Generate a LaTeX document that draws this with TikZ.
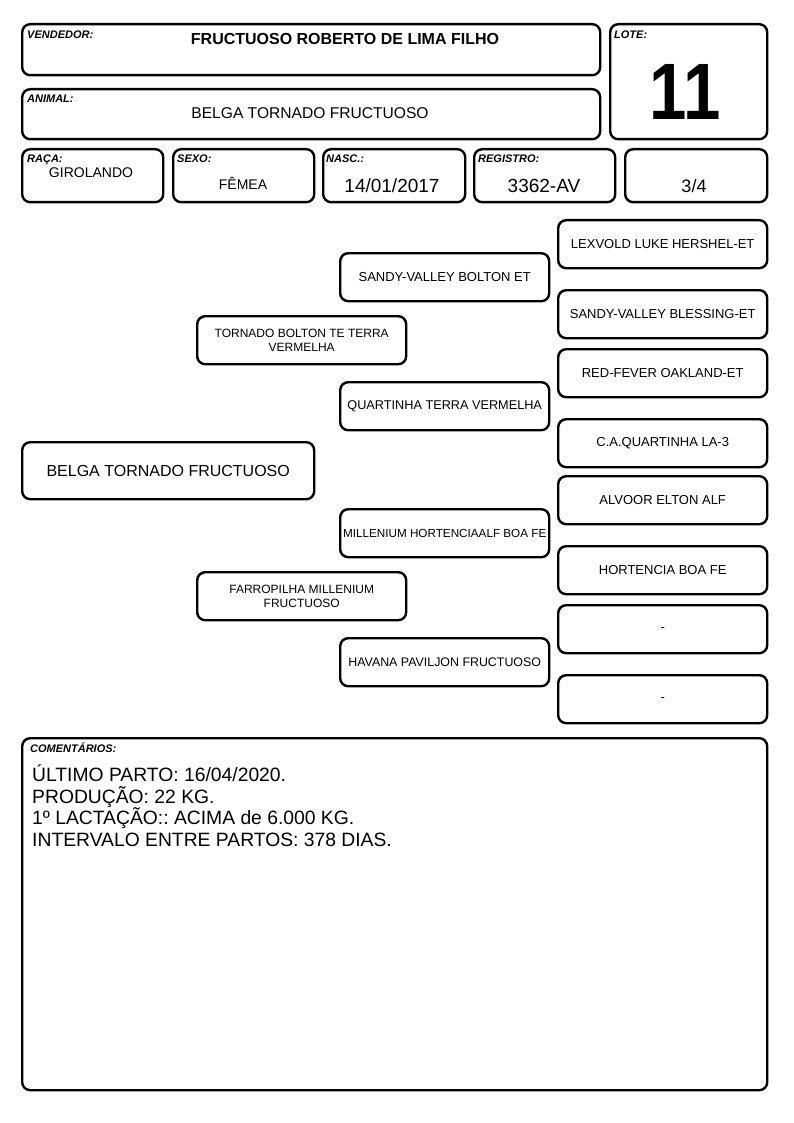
\documentclass[tikz,border=0pt]{standalone}
\usepackage{fontspec}
\setmainfont{Liberation Sans}
\frenchspacing
\begin{document}
\begin{tikzpicture}[x=1pt,y=-1pt,
  box/.style={draw=black,line width=2.4pt,rounded corners=8pt,anchor=north west,inner sep=0pt,align=center},
  lbl/.style={anchor=base west,inner sep=0pt,font=\fontsize{11}{12}\selectfont\bfseries\itshape},
  val/.style={anchor=base,inner sep=0pt},
  ped/.style={font=\fontsize{13}{15}\selectfont},
  peds/.style={font=\fontsize{12}{14}\selectfont}]
\useasboundingbox (0,0) rectangle (794,1123);
\newcommand\Bx[6][]{\node[box,minimum width=#4pt,minimum height=#5pt,#1] (#2) at (#3) {#6};}
% header
\Bx{vend}{21,23}{578}{51}{}
\Bx{lote}{609,23}{157}{115}{}
\Bx{anim}{21,88}{578}{50}{}
\Bx{raca}{21,148}{141}{53}{}
\Bx{sexo}{172,148}{141}{53}{}
\Bx{nasc}{322,148}{142}{53}{}
\Bx{regi}{473,148}{141}{53}{}
\Bx{grau}{624,148}{142}{53}{}
\node[lbl] (lvend) at (27,39) {VENDEDOR:};
\node[val,font=\fontsize{16}{18}\selectfont\bfseries] (tvend) at (345,44.5) {FRUCTUOSO ROBERTO DE LIMA FILHO};
\node[lbl] (llote) at (614,39) {LOTE:};
\node[val,font=\fontsize{80}{80}\selectfont\bfseries] (tlote) at (685,120) {\scalebox{0.84}[1]{11}};
\node[lbl] (lanim) at (27,103) {ANIMAL:};
\node[val,font=\fontsize{15.6}{17}\selectfont] (tanim) at (310,119) {BELGA TORNADO FRUCTUOSO};
\node[lbl] (lraca) at (27,163) {RAÇA:};
\node[val,font=\fontsize{14}{16}\selectfont] (traca) at (91,178) {GIROLANDO};
\node[lbl] (lsexo) at (177,163) {SEXO:};
\node[val,font=\fontsize{14}{16}\selectfont] (tsexo) at (243,190) {FÊMEA};
\node[lbl] (lnasc) at (326,163) {NASC.:};
\node[val,font=\fontsize{19}{21}\selectfont] (tnasc) at (392,193) {14/01/2017};
\node[lbl] (lregi) at (478,163) {REGISTRO:};
\node[val,font=\fontsize{19}{21}\selectfont] (tregi) at (544,193) {3362-AV};
\node[val,font=\fontsize{18}{20}\selectfont] (tgrau) at (694,193) {3/4};
% pedigree
\Bx[font=\fontsize{16}{18}\selectfont]{p0}{21,441}{292}{57}{BELGA TORNADO FRUCTUOSO}
\Bx[peds]{p1}{196,315}{209}{48}{TORNADO BOLTON TE TERRA\\VERMELHA}
\Bx[peds]{p2}{196,571}{209}{48}{FARROPILHA MILLENIUM\\FRUCTUOSO}
\Bx[ped]{p11}{339,252}{209}{48}{SANDY-VALLEY BOLTON ET}
\Bx[font=\fontsize{12.7}{15}\selectfont]{p12}{339,381}{209}{48}{QUARTINHA TERRA VERMELHA}
\Bx[font=\fontsize{11.7}{14}\selectfont]{p21}{339,508}{209}{48}{MILLENIUM HORTENCIAALF BOA FE}
\Bx[font=\fontsize{12.4}{14}\selectfont]{p22}{339,637}{209}{48}{HAVANA PAVILJON FRUCTUOSO}
\Bx[ped]{p111}{557,219}{209}{48}{LEXVOLD LUKE HERSHEL-ET}
\Bx[ped]{p112}{557,289}{209}{48}{SANDY-VALLEY BLESSING-ET}
\Bx[ped]{p121}{557,348}{209}{48}{RED-FEVER OAKLAND-ET}
\Bx[ped]{p122}{557,418}{209}{48}{C.A.QUARTINHA LA-3}
\Bx[ped]{p211}{557,475}{209}{48}{ALVOOR ELTON ALF}
\Bx[ped]{p212}{557,545}{209}{48}{HORTENCIA BOA FE}
\Bx[ped]{p221}{557,604}{209}{48}{-}
\Bx[ped]{p222}{557,674}{209}{48}{-}
% comments
\Bx{com}{21,737}{745}{352}{}
\node[lbl] (lcom) at (30,752) {COMENTÁRIOS:};
\node[anchor=north west,inner sep=0pt,align=left,font=\fontsize{19.3}{21.4}\selectfont] (tcom) at (32,765)
 {ÚLTIMO PARTO: 16/04/2020.\\PRODUÇÃO: 22 KG.\\1º LACTAÇÃO:: ACIMA de 6.000 KG.\\INTERVALO ENTRE PARTOS: 378 DIAS.};
\end{tikzpicture}
\end{document}
